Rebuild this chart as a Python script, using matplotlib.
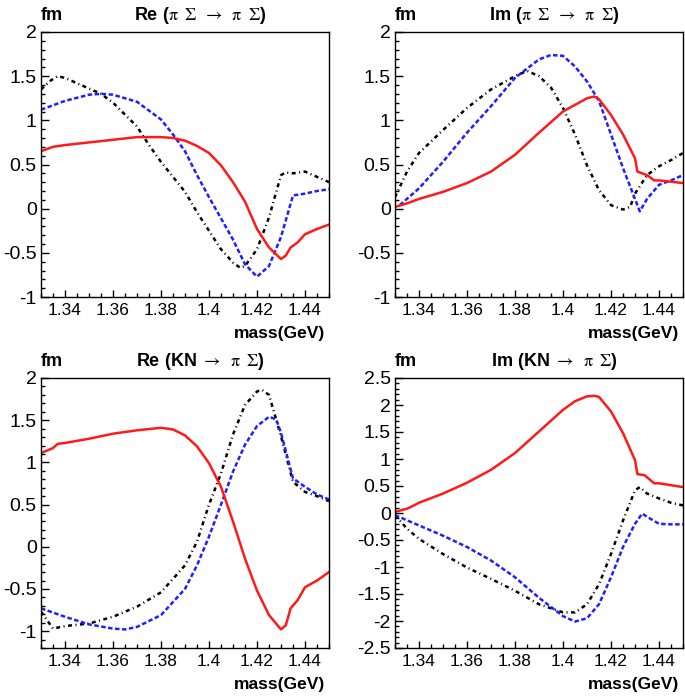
import matplotlib
matplotlib.use("Agg")
import matplotlib.pyplot as plt
from matplotlib.ticker import MultipleLocator, FormatStrFormatter

plt.rcParams['font.family'] = ['Liberation Sans', 'DejaVu Sans']
plt.rcParams['mathtext.fontset'] = 'stix'

# --- Re (pi Sigma -> pi Sigma) ---
re_ss_red_x = [1.33, 1.335, 1.34, 1.35, 1.36, 1.37, 1.38, 1.385, 1.39, 1.395, 1.40, 1.405, 1.41,
               1.415, 1.42, 1.425, 1.43, 1.432, 1.434, 1.437, 1.44, 1.445, 1.45]
re_ss_red_y = [0.65, 0.70, 0.72, 0.75, 0.78, 0.81, 0.81, 0.80, 0.77, 0.71, 0.63, 0.49, 0.30,
               0.08, -0.23, -0.44, -0.57, -0.53, -0.44, -0.38, -0.29, -0.23, -0.18]
re_ss_blue_x = [1.33, 1.34, 1.35, 1.355, 1.36, 1.37, 1.38, 1.385, 1.39, 1.395, 1.40, 1.405, 1.41,
                1.415, 1.42, 1.425, 1.43, 1.435, 1.44, 1.445, 1.45]
re_ss_blue_y = [1.12, 1.22, 1.29, 1.30, 1.29, 1.21, 1.01, 0.84, 0.65, 0.38, 0.13, -0.11, -0.35,
                -0.63, -0.77, -0.65, -0.32, 0.15, 0.17, 0.20, 0.22]
re_ss_black_x = [1.33, 1.334, 1.337, 1.34, 1.35, 1.355, 1.36, 1.37, 1.375, 1.38, 1.39, 1.395, 1.40,
                 1.405, 1.41, 1.413, 1.415, 1.42, 1.425, 1.43, 1.432, 1.435, 1.44, 1.445, 1.45]
re_ss_black_y = [1.35, 1.45, 1.50, 1.48, 1.36, 1.30, 1.20, 0.93, 0.72, 0.53, 0.19, -0.04, -0.25,
                 -0.46, -0.61, -0.67, -0.65, -0.46, -0.10, 0.38, 0.41, 0.40, 0.42, 0.36, 0.30]

# --- Im (pi Sigma -> pi Sigma) ---
im_ss_red_x = [1.33, 1.335, 1.34, 1.35, 1.36, 1.37, 1.38, 1.39, 1.40, 1.41, 1.413, 1.415, 1.42,
               1.425, 1.43, 1.431, 1.435, 1.438, 1.44, 1.45]
im_ss_red_y = [0.02, 0.06, 0.11, 0.19, 0.29, 0.42, 0.61, 0.86, 1.10, 1.25, 1.27, 1.24, 1.06,
               0.84, 0.57, 0.42, 0.38, 0.32, 0.32, 0.29]
im_ss_blue_x = [1.332, 1.34, 1.35, 1.36, 1.37, 1.38, 1.39, 1.395, 1.40, 1.405, 1.41, 1.415, 1.42,
                1.425, 1.43, 1.432, 1.435, 1.44, 1.445, 1.45]
im_ss_blue_y = [0.04, 0.23, 0.53, 0.86, 1.16, 1.48, 1.69, 1.74, 1.73, 1.61, 1.44, 1.22, 0.84,
                0.46, 0.11, -0.03, 0.11, 0.27, 0.32, 0.38]
im_ss_black_x = [1.33, 1.335, 1.34, 1.35, 1.36, 1.37, 1.38, 1.385, 1.39, 1.395, 1.40, 1.405, 1.41,
                 1.415, 1.42, 1.425, 1.428, 1.43, 1.435, 1.44, 1.445, 1.45]
im_ss_black_y = [0.13, 0.42, 0.63, 0.89, 1.14, 1.35, 1.50, 1.56, 1.50, 1.37, 1.14, 0.84, 0.49,
                 0.21, 0.04, -0.01, 0.02, 0.17, 0.38, 0.48, 0.55, 0.63]

# --- Re (KN -> pi Sigma) ---
re_ks_red_x = [1.33, 1.335, 1.337, 1.34, 1.35, 1.36, 1.37, 1.38, 1.385, 1.39, 1.395, 1.40, 1.405,
               1.41, 1.415, 1.42, 1.425, 1.43, 1.432, 1.434, 1.437, 1.44, 1.445, 1.45]
re_ks_red_y = [1.11, 1.17, 1.22, 1.23, 1.28, 1.34, 1.38, 1.41, 1.39, 1.32, 1.19, 0.99, 0.71,
               0.30, -0.14, -0.52, -0.81, -0.98, -0.93, -0.73, -0.63, -0.48, -0.40, -0.30]
re_ks_blue_x = [1.33, 1.34, 1.35, 1.36, 1.365, 1.37, 1.38, 1.39, 1.395, 1.40, 1.405, 1.41, 1.415,
                1.42, 1.425, 1.428, 1.43, 1.435, 1.44, 1.445, 1.45]
re_ks_blue_y = [-0.73, -0.83, -0.92, -0.97, -0.98, -0.95, -0.81, -0.50, -0.22, 0.12, 0.50, 0.89,
                1.21, 1.43, 1.54, 1.51, 1.35, 0.81, 0.71, 0.62, 0.56]
re_ks_black_x = [1.33, 1.335, 1.34, 1.35, 1.36, 1.37, 1.38, 1.39, 1.395, 1.40, 1.405, 1.41, 1.415,
                 1.42, 1.422, 1.425, 1.43, 1.435, 1.44, 1.445, 1.45]
re_ks_black_y = [-0.77, -0.97, -0.94, -0.91, -0.83, -0.71, -0.54, -0.22, 0.06, 0.50, 0.87, 1.33,
                 1.68, 1.84, 1.86, 1.80, 1.31, 0.77, 0.65, 0.60, 0.54]

# --- Im (KN -> pi Sigma) ---
im_ks_red_x = [1.33, 1.335, 1.337, 1.34, 1.35, 1.36, 1.37, 1.38, 1.39, 1.40, 1.405, 1.41, 1.413,
               1.415, 1.42, 1.425, 1.43, 1.431, 1.434, 1.438, 1.44, 1.45]
im_ks_red_y = [0.02, 0.08, 0.12, 0.19, 0.36, 0.56, 0.80, 1.11, 1.51, 1.91, 2.07, 2.16, 2.17,
               2.15, 1.88, 1.48, 0.98, 0.72, 0.70, 0.55, 0.55, 0.48]
im_ks_blue_x = [1.33, 1.34, 1.35, 1.36, 1.37, 1.38, 1.39, 1.40, 1.405, 1.41, 1.415, 1.42, 1.425,
                1.43, 1.433, 1.435, 1.44, 1.445, 1.45]
im_ks_blue_y = [-0.04, -0.23, -0.42, -0.63, -0.88, -1.19, -1.57, -1.91, -2.01, -1.95, -1.69,
                -1.19, -0.63, -0.20, -0.01, -0.07, -0.20, -0.21, -0.21]
im_ks_black_x = [1.33, 1.335, 1.34, 1.35, 1.36, 1.37, 1.38, 1.39, 1.40, 1.405, 1.41, 1.415, 1.42,
                 1.425, 1.43, 1.432, 1.435, 1.44, 1.445, 1.45]
im_ks_black_y = [-0.04, -0.29, -0.48, -0.76, -1.01, -1.22, -1.44, -1.69, -1.84, -1.84, -1.69,
                 -1.32, -0.76, -0.14, 0.42, 0.48, 0.36, 0.27, 0.19, 0.14]

pisig = r"($\mathrm{\pi}\;\;\Sigma\;\;\rightarrow\;\;\mathrm{\pi}\;\;\Sigma$)"
knpisig = r"(KN $\rightarrow\;\;\mathrm{\pi}\;\;\Sigma$)"

panels = [
    ("Re", pisig, (-1, 2),
     (re_ss_red_x, re_ss_red_y), (re_ss_blue_x, re_ss_blue_y), (re_ss_black_x, re_ss_black_y)),
    ("Im", pisig, (-1, 2),
     (im_ss_red_x, im_ss_red_y), (im_ss_blue_x, im_ss_blue_y), (im_ss_black_x, im_ss_black_y)),
    ("Re", knpisig, (-1.2, 2),
     (re_ks_red_x, re_ks_red_y), (re_ks_blue_x, re_ks_blue_y), (re_ks_black_x, re_ks_black_y)),
    ("Im", knpisig, (-2.5, 2.5),
     (im_ks_red_x, im_ks_red_y), (im_ks_blue_x, im_ks_blue_y), (im_ks_black_x, im_ks_black_y)),
]

W, H = 685, 700
fig = plt.figure(figsize=(W / 100, H / 100), dpi=100)
# axes boxes in pixels: left, top, right, bottom
boxes = [(41, 32, 329, 297), (395, 32, 683, 297), (41, 378, 329, 648), (395, 378, 683, 648)]

for (part, reac, ylim, red, blue, black), (l, t, r, b) in zip(panels, boxes):
    ax = fig.add_axes([l / W, 1 - b / H, (r - l) / W, (b - t) / H])
    ax.plot(*black, color="black", lw=1.8, dashes=(1.6, 1.4, 0.4, 1.4))
    ax.plot(*blue, color="#1f1fff", lw=1.8, dashes=(1.8, 1.0))
    ax.plot(*red, color="#ff1a1a", lw=1.8)
    ax.set_xlim(1.33, 1.45)
    ax.set_ylim(*ylim)
    ax.xaxis.set_major_locator(MultipleLocator(0.02))
    ax.xaxis.set_minor_locator(MultipleLocator(0.005))
    ax.yaxis.set_major_locator(MultipleLocator(0.5))
    ax.yaxis.set_minor_locator(MultipleLocator(0.1))
    ax.xaxis.set_major_formatter(FormatStrFormatter('%g'))
    ax.yaxis.set_major_formatter(FormatStrFormatter('%g'))
    ax.tick_params(which='both', direction='in', top=False, right=False, width=1)
    ax.tick_params(axis='x', which='major', length=5, labelsize=12.5, pad=4)
    ax.tick_params(axis='x', which='minor', length=3)
    ax.tick_params(axis='y', which='major', length=6, labelsize=14, pad=3)
    ax.tick_params(axis='y', which='minor', length=3)
    for s in ax.spines.values():
        s.set_linewidth(1)
    ax.annotate("fm", xy=(0, 1), xycoords='axes fraction', xytext=(0, 12), textcoords='offset points',
                ha='left', va='center', fontsize=13, fontweight='bold')
    ax.annotate(part + " " + reac, xy=(0.552, 1), xycoords='axes fraction', xytext=(0, 12),
                textcoords='offset points', ha='center', va='center', fontsize=13, fontweight='bold')
    ax.annotate("mass(GeV)", xy=(0.986, 0), xycoords='axes fraction', xytext=(0, -26),
                textcoords='offset points', ha='right', va='center', fontsize=12.5, fontweight='bold')

fig.savefig("out.png", dpi=100)
